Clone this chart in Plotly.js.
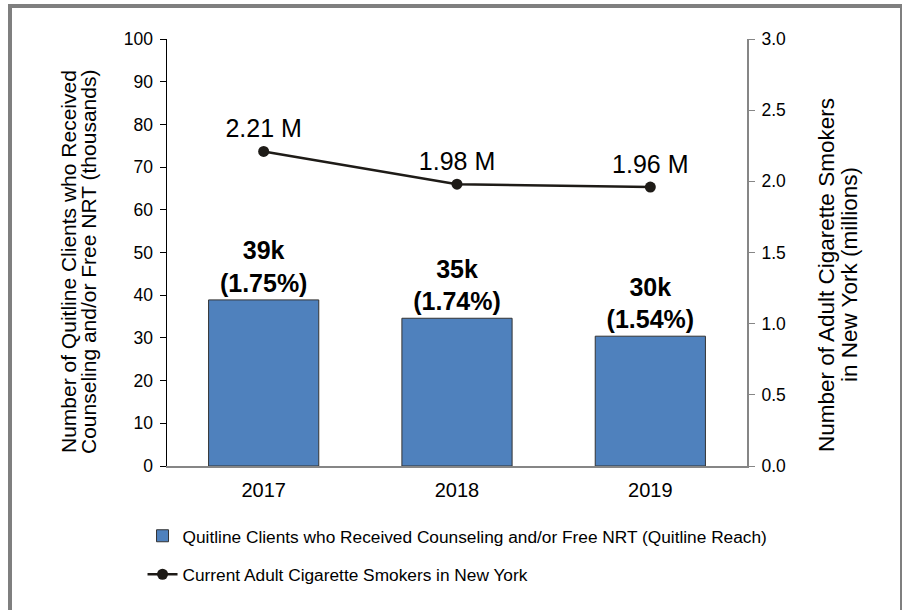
<!DOCTYPE html>
<html>
<head>
<meta charset="utf-8">
<script src="https://cdn.plot.ly/plotly-3.0.1.min.js"></script>
<style>
  html, body { margin: 0; padding: 0; background: #ffffff; }
  #wrap { position: relative; width: 902px; height: 610px; }
  #chart { position: absolute; left: 0; top: 0; width: 902px; height: 610px; }
  #frame { position: absolute; left: 8px; top: 4px; width: 888px; height: 620px;
           border-left: 4px solid #7f7f7f; border-top: 4px solid #7f7f7f; border-right: 2px solid #7f7f7f;
           pointer-events: none; }
</style>
</head>
<body>
<div id="wrap">
  <div id="chart"></div>
  <div id="frame"></div>
</div>
<script>
const years = ['2017', '2018', '2019'];
const reachThousands = [38.9, 34.6, 30.4];
const reachLabels = ['39k', '35k', '30k'];
const reachPercent = ['1.75%', '1.74%', '1.54%'];
const smokersMillions = [2.21, 1.98, 1.96];
const leftTicks = [0, 10, 20, 30, 40, 50, 60, 70, 80, 90, 100];
const rightTicks = [0, 0.5, 1.0, 1.5, 2.0, 2.5, 3.0];
const leftTitleLines = ['Number of Quitline Clients who Received', 'Counseling and/or Free NRT (thousands)'];
const rightTitleLines = ['Number of Adult Cigarette Smokers', 'in New York (millions)'];

const FONT = 'Liberation Sans, Arial, sans-serif';

const barTrace = {
  type: 'bar',
  x: years,
  y: reachThousands,
  name: 'Quitline Clients who Received Counseling and/or Free NRT (Quitline Reach)',
  marker: { color: '#4f81bd', line: { color: '#333333', width: 1 } },
  width: 0.57,
  text: reachLabels.map((t, i) => '<b>' + t + '</b><br><b>(' + reachPercent[i] + ')</b>'),
  textposition: 'outside',
  textfont: { family: FONT, size: 25, color: '#000000' },
  cliponaxis: false,
  legendgroup: 'a',
  yaxis: 'y'
};

const lineTrace = {
  type: 'scatter',
  mode: 'lines+markers+text',
  x: years,
  y: smokersMillions,
  name: 'Current Adult Cigarette Smokers in New York',
  line: { color: '#1e1b17', width: 2.5 },
  marker: { color: '#1e1b17', size: 11 },
  text: smokersMillions.map(v => v.toFixed(2) + ' M'),
  textposition: 'top center',
  textfont: { family: FONT, size: 25, color: '#000000' },
  cliponaxis: false,
  legendgroup: 'b',
  yaxis: 'y2'
};

function px2x(px) { return (px - 167) / 580; }
function px2y(py) { return (466 - py) / 427; }

const titleAnnotations = [
  { text: leftTitleLines[0], x: px2x(68), y: px2y(262), size: 21 },
  { text: leftTitleLines[1], x: px2x(88), y: px2y(262), size: 21 },
  { text: rightTitleLines[0], x: px2x(826), y: px2y(275), size: 22.5 },
  { text: rightTitleLines[1], x: px2x(849), y: px2y(275), size: 22.5 }
].map(a => ({
  text: a.text,
  xref: 'paper', yref: 'paper',
  x: a.x, y: a.y,
  xanchor: 'center', yanchor: 'middle',
  textangle: -90,
  showarrow: false,
  font: { family: FONT, size: a.size, color: '#000000' }
}));

const layout = {
  width: 902,
  height: 610,
  margin: { l: 167, r: 155, t: 39, b: 144 },
  paper_bgcolor: '#ffffff',
  plot_bgcolor: '#ffffff',
  font: { family: FONT, size: 16, color: '#000000' },
  showlegend: true,
  bargap: 0.43,
  xaxis: {
    type: 'category',
    showline: true,
    linecolor: '#868686',
    linewidth: 2,
    ticks: '',
    showgrid: false,
    zeroline: false,
    tickfont: { family: FONT, size: 20, color: '#000000' },
    ticklabelstandoff: 5
  },
  yaxis: {
    range: [0, 100],
    tickvals: leftTicks,
    showline: true,
    linecolor: '#000000',
    linewidth: 1.5,
    ticks: 'outside',
    ticklen: 6,
    tickcolor: '#000000',
    showgrid: false,
    zeroline: false,
    tickfont: { family: FONT, size: 17.5, color: '#000000' },
    ticklabelstandoff: 3
  },
  yaxis2: {
    overlaying: 'y',
    side: 'right',
    range: [0, 3],
    tickvals: rightTicks,
    tickformat: '.1f',
    showline: true,
    linecolor: '#868686',
    linewidth: 2,
    ticks: 'outside',
    ticklen: 6,
    tickcolor: '#868686',
    showgrid: false,
    zeroline: false,
    tickfont: { family: FONT, size: 17.5, color: '#000000' },
    ticklabelstandoff: 3
  },
  annotations: titleAnnotations,
  legend: {
    orientation: 'v',
    x: -0.0422,
    xanchor: 'left',
    y: -0.1218,
    yanchor: 'top',
    traceorder: 'grouped',
    tracegroupgap: 13,
    font: { family: FONT, size: 17.3, color: '#000000' },
    bgcolor: 'rgba(0,0,0,0)'
  }
};

Plotly.newPlot('chart', [barTrace, lineTrace], layout, { staticPlot: true, displayModeBar: false });
</script>
</body>
</html>
